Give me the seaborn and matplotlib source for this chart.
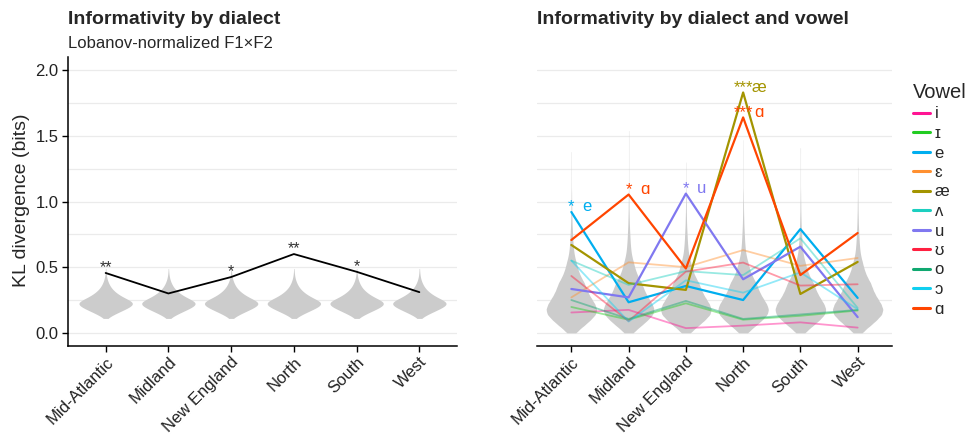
import numpy as np
import pandas as pd
import matplotlib
matplotlib.use("Agg")
import matplotlib.pyplot as plt
from matplotlib.colors import to_hex
import seaborn as sns

# ---------------------------------------------------------------- data
dialects = ["Mid-Atlantic", "Midland", "New England", "North", "South", "West"]

# Informativity of each dialect (KL divergence, bits) and its significance
dialect_kl = [0.456, 0.30, 0.425, 0.60, 0.465, 0.31]
dialect_sig = ["**", "", "*", "**", "*", ""]

# Permutation null for the dialect-level measure, binned (centre, count)
null_bins_dialect = [0.11, 0.13, 0.15, 0.17, 0.19, 0.21, 0.23, 0.25, 0.27, 0.29,
                     0.31, 0.33, 0.35, 0.37, 0.39, 0.41, 0.43, 0.45, 0.47, 0.49]
null_counts_dialect = [4, 20, 38, 58, 78, 94, 100, 82, 62, 46,
                       34, 24, 17, 12, 8, 5, 3, 2, 1, 1]

# Permutation null for the dialect x vowel measure, binned (centre, count)
null_bins_vowel = [0.00, 0.02, 0.06, 0.10, 0.14, 0.18, 0.22, 0.26, 0.30, 0.34,
                   0.38, 0.42, 0.46, 0.50, 0.54, 0.58, 0.62, 0.66, 0.70, 0.74,
                   0.78, 0.82, 0.86, 0.90, 0.94, 0.98, 1.02, 1.06, 1.10, 1.14,
                   1.18, 1.22]
null_counts_vowel = [12, 50, 105, 150, 190, 200, 184, 158, 134, 116,
                     102, 78, 60, 47, 37, 26, 19, 15, 12, 10,
                     8, 6, 5, 4, 3, 3, 2, 2, 1, 1,
                     1, 1]
# Extreme upper tail of that null, per dialect
null_tail_vowel = [
    [1.26, 1.30, 1.34, 1.38],
    [1.26, 1.30, 1.34, 1.38, 1.42, 1.46, 1.50, 1.54],
    [1.26, 1.30],
    [1.26, 1.30, 1.34, 1.38, 1.42, 1.47],
    [1.26, 1.30, 1.34, 1.38, 1.41],
    [1.26],
]

vowels = ["i", "ɪ", "e", "ɛ", "æ", "ʌ", "u", "ʊ", "o", "ɔ", "ɑ"]
vowel_colors = ["#FF1493", "#22CC22", "#00AEEF", "#FF9030", "#A39400", "#1CCFC0",
                "#8078F0", "#FF2040", "#10A870", "#10CFF0", "#FF4500"]

# KL divergence per vowel, in dialect order
kl_i = [0.155, 0.175, 0.036, 0.055, 0.08, 0.04]
kl_ih = [0.197, 0.10, 0.225, 0.10, 0.13, 0.17]
kl_e = [0.92, 0.233, 0.357, 0.25, 0.79, 0.266]
kl_eh = [0.27, 0.537, 0.50, 0.63, 0.51, 0.57]
kl_ae = [0.669, 0.378, 0.327, 1.83, 0.296, 0.54]
kl_uh = [0.55, 0.365, 0.47, 0.44, 0.72, 0.19]
kl_u = [0.334, 0.27, 1.06, 0.408, 0.656, 0.12]
kl_uu = [0.433, 0.09, 0.466, 0.535, 0.36, 0.37]
kl_o = [0.25, 0.106, 0.243, 0.106, 0.14, 0.175]
kl_oh = [0.55, 0.086, 0.40, 0.306, 0.46, 0.18]
kl_aa = [0.707, 1.053, 0.49, 1.64, 0.44, 0.76]

# Significant dialect/vowel cells
sig_dialect = ["Mid-Atlantic", "Midland", "New England", "North", "North"]
sig_vowel = ["e", "ɑ", "u", "æ", "ɑ"]
sig_stars = ["*", "*", "*", "***", "***"]

# ---------------------------------------------------------------- frames
null_left = np.repeat(null_bins_dialect, null_counts_dialect)
df_null_left = pd.DataFrame({
    "dialect": np.repeat(dialects, len(null_left)),
    "kl": np.tile(null_left, len(dialects)),
})

rows = []
null_body = np.repeat(null_bins_vowel, null_counts_vowel)
for d, tail in zip(dialects, null_tail_vowel):
    for v in np.concatenate([null_body, tail]):
        rows.append((d, v))
df_null_right = pd.DataFrame(rows, columns=["dialect", "kl"])

vowel_kl = [kl_i, kl_ih, kl_e, kl_eh, kl_ae, kl_uh, kl_u, kl_uu, kl_o, kl_oh, kl_aa]
df_lines = pd.DataFrame([
    (d, v, k) for v, vals in zip(vowels, vowel_kl) for d, k in zip(dialects, vals)
], columns=["dialect", "Vowel", "kl"])
palette = dict(zip(vowels, vowel_colors))
kl_lookup = {(d, v): k for d, v, k in df_lines.itertuples(index=False)}

# ---------------------------------------------------------------- style
sns.set_style("white")
plt.rcParams["font.family"] = ["Liberation Sans", "DejaVu Sans"]
plt.rcParams["axes.linewidth"] = 1.1

W, H = 971, 437
fig = plt.figure(figsize=(W / 100, H / 100), dpi=100)
axL = fig.add_axes([68 / W, 91 / H, 389 / W, 289 / H])
axR = fig.add_axes([537 / W, 91 / H, 355 / W, 289 / H])

violin_kw = dict(color="#CCCCCC", saturation=1, inner=None, linewidth=0,
                 cut=0, density_norm="width")

# left panel
sns.violinplot(data=df_null_left, x="dialect", y="kl", order=dialects,
               width=0.85, bw_method=0.3, ax=axL, **violin_kw)
sns.lineplot(x=dialects, y=dialect_kl, color="black", lw=1.3,
             errorbar=None, sort=False, ax=axL)
for d, k, s in zip(dialects, dialect_kl, dialect_sig):
    if s:
        axL.annotate(s, xy=(d, k), xytext=(0, 0.5), textcoords="offset points",
                     ha="center", va="baseline", fontsize=11.5, color="#333333")

# right panel
sns.violinplot(data=df_null_right, x="dialect", y="kl", order=dialects,
               width=0.88, bw_method=0.12, ax=axR, **violin_kw)
sns.lineplot(data=df_lines, x="dialect", y="kl", hue="Vowel", hue_order=vowels,
             palette=palette, lw=1.6, errorbar=None, sort=False, ax=axR)
strong = set(sig_vowel)
hex_to_vowel = {to_hex(c): v for v, c in palette.items()}
for line in axR.lines:
    v = hex_to_vowel.get(to_hex(line.get_color()))
    if v is not None and v not in strong:
        line.set_alpha(0.45)
        line.set_linewidth(1.3)

for d, v, s in zip(sig_dialect, sig_vowel, sig_stars):
    k = kl_lookup[(d, v)]
    axR.annotate(s, xy=(d, k), xytext=(0, 0.5), textcoords="offset points",
                 ha="center", va="baseline", fontsize=12, color=palette[v])
    axR.annotate(v, xy=(d, k), xytext=(11.5, 0.5), textcoords="offset points",
                 ha="center", va="baseline", fontsize=12, color=palette[v])

# ---------------------------------------------------------------- axes
for ax in (axL, axR):
    ax.set_xlim(-0.6, 5.6)
    ax.set_ylim(-0.1, 2.1)
    ax.set_yticks([0, 0.5, 1.0, 1.5, 2.0])
    ax.set_yticks([0.25, 0.75, 1.25, 1.75], minor=True)
    ax.yaxis.grid(True, which="both", color="#EBEBEB", lw=0.9)
    ax.xaxis.grid(False)
    ax.set_axisbelow(True)
    ax.set_xlabel("")
    ax.set_ylabel("")
    for sp in ("top", "right"):
        ax.spines[sp].set_visible(False)
    ax.spines["bottom"].set_color("black")
    ax.tick_params(axis="x", which="major", bottom=True, length=4, width=1,
                   color="black", pad=2, labelsize=12, labelcolor="#222222")
    ax.tick_params(axis="y", which="minor", left=False, length=0)
    ax.set_xticks(range(len(dialects)))
    ax.set_xticklabels(dialects, rotation=45, ha="right", va="top",
                       rotation_mode="anchor")

axL.spines["left"].set_color("black")
axL.tick_params(axis="y", which="major", left=True, length=4, width=1,
                color="black", pad=3, labelsize=12, labelcolor="#222222")
axL.set_yticklabels(["0.0", "0.5", "1.0", "1.5", "2.0"])

axR.spines["left"].set_visible(False)
axR.tick_params(axis="y", which="major", left=False, labelleft=False)

# titles and axis label
fig.text(68 / W, 1 - 23.5 / H, "Informativity by dialect", fontsize=14,
         fontweight="bold", ha="left", va="baseline")
fig.text(68 / W, 1 - 48 / H, "Lobanov-normalized F1×F2", fontsize=12,
         ha="left", va="baseline")
fig.text(537 / W, 1 - 23.5 / H, "Informativity by dialect and vowel",
         fontsize=14, fontweight="bold", ha="left", va="baseline")
fig.text(21 / W, 1 - 200 / H, "KL divergence (bits)", fontsize=14,
         rotation=90, ha="center", va="center")

sns.move_legend(axR, "upper left", bbox_to_anchor=(913 / W, 1 - 83 / H),
                bbox_transform=fig.transFigure, frameon=False, title="Vowel",
                fontsize=12, title_fontsize=14.5, handlelength=1.0,
                handletextpad=0.3, labelspacing=0.27, borderpad=0,
                borderaxespad=0, alignment="left")
leg = axR.get_legend()
for h in leg.get_lines():
    h.set_linewidth(2.2)

fig.savefig("out.png", dpi=100, facecolor="white")
